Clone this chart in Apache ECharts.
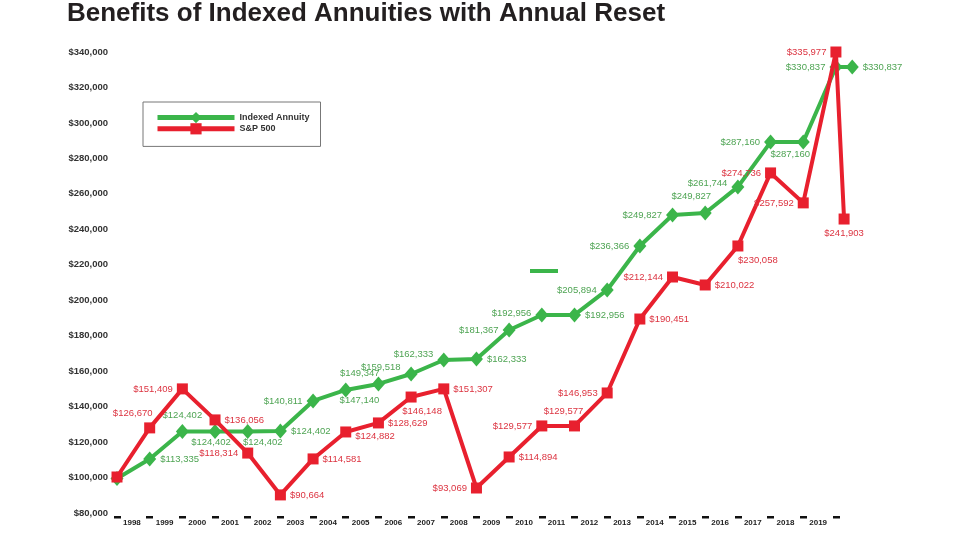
<!DOCTYPE html>
<html>
<head>
<meta charset="utf-8">
<script src="https://cdn.jsdelivr.net/npm/echarts@6/dist/echarts.min.js"></script>
<style>
html,body{margin:0;padding:0;background:#ffffff;}
#chart{width:960px;height:540px;}
</style>
</head>
<body>
<div id="chart"></div>
<script>
// ---- data ----
const years = ['1998','1999','2000','2001','2002','2003','2004','2005','2006','2007','2008','2009','2010','2011','2012','2013','2014','2015','2016','2017','2018','2019'];
const yTicks = [80000,100000,120000,140000,160000,180000,200000,220000,240000,260000,280000,300000,320000,340000];

// period index (one per year mark) for each plotted point
const annuityPeriod = [0,1,2,3,4,5,6,7,8,9,10,11,12,13,14,15,16,17,18,19,20,21,22,22.5];
const annuityValues = [99500,110500,126000,126000,126000,126200,143200,149400,152800,158400,166300,166800,183200,191700,191700,205800,230600,248100,249200,263900,289200,289200,331500,331500];
const annuityLabels = ['','$113,335','$124,402','$124,402','$124,402','$124,402','$140,811','$149,347','$147,140','$159,518','$162,333','$162,333','$181,367','$192,956','$192,956','$205,894','$236,366','$249,827','$249,827','$261,744','$287,160','$287,160','$330,837','$330,837'];

const sp500Period = [0,1,2,3,4,5,6,7,8,9,10,11,12,13,14,15,16,17,18,19,20,21,22,22.25];
const sp500Values = [100300,128000,150000,132500,113800,90200,110500,125700,130800,145400,150000,94100,111600,129100,129100,147700,189400,213100,208600,230600,271800,254900,340000,245800];
const sp500Labels = ['','$126,670','$151,409','$136,056','$118,314','$90,664','$114,581','$124,882','$128,629','$146,148','$151,307','$93,069','$114,894','$129,577','$129,577','$146,953','$190,451','$212,144','$210,022','$230,058','$274,736','$257,592','$335,977','$241,903'];

// ---- label placement (style only) ----
const annuityPlace = [
  ['right',0,0],['right',0,0],['top',0,0],['bottom',-4,-6],['bottom',15,-6],['right',0,0],
  ['left',0,0],['top',14,0],['bottom',-19,0],['left',0,-7],['left',0,-6],['right',0,0],
  ['left',0,0],['left',0,-2],['right',0,0],['left',0,0],['left',0,0],['left',0,0],
  ['top',-14,0],['left',0,-4],['left',0,0],['bottom',-13,-4],['left',0,0],['right',0,0]
];
const sp500Place = [
  ['right',0,0],['top',-17,0],['left',0,0],['right',0,0],['left',0,0],['right',0,0],
  ['right',0,0],['right',0,4],['right',0,0],['bottom',11,0],['right',0,0],['left',0,0],
  ['right',0,0],['left',0,0],['top',-11,0],['left',0,0],['right',0,0],['left',0,0],
  ['right',0,0],['bottom',20,0],['left',0,0],['left',0,0],['left',0,0],['bottom',0,0]
];

const FONT = "'Liberation Sans', Arial, sans-serif";
const GREEN = '#3bb54a', GREEN_TXT = '#4ea453';
const RED = '#e8202e', RED_TXT = '#dc3340';
const tickValues = years.map((y, i) => i).concat([years.length]);
const labelValues = years.map((y, i) => i);

function buildData(period, values, labels, place, color) {
  return values.map((v, i) => ({
    value: [period[i], v],
    label: {
      show: labels[i] !== '',
      formatter: labels[i],
      position: place[i][0],
      offset: [place[i][1], place[i][2]],
      color: color,
      fontFamily: FONT,
      fontSize: 9.5,
      distance: 4
    }
  }));
}

const chart = echarts.init(document.getElementById('chart'), null, {renderer: 'canvas'});
chart.setOption({
  animation: false,
  backgroundColor: '#ffffff',
  title: {
    text: 'Benefits of Indexed Annuities with Annual Reset',
    left: 67, top: 1, padding: 0,
    textStyle: {fontFamily: FONT, fontSize: 26, fontWeight: 'bold', color: '#231f20'}
  },
  legend: {
    orient: 'vertical',
    left: 143, top: 102,
    padding: [10, 11, 12, 12],
    itemGap: 0,
    itemWidth: 77, itemHeight: 14,
    borderColor: '#777', borderWidth: 1,
    lineStyle: {width: 5},
    textStyle: {fontFamily: FONT, fontSize: 9, fontWeight: 'bold', color: '#333'},
    data: ['Indexed Annuity', 'S&P 500']
  },
  grid: {left: 117, right: 91.4, top: 52, bottom: 27, containLabel: false},
  xAxis: {
    type: 'value', min: 0, max: 23, interval: 1,
    offset: 3,
    splitLine: {show: false},
    axisLine: {show: false},
    axisTick: {show: true, length: 2.5, customValues: tickValues.slice(0, 23), lineStyle: {color: '#111', width: 7}},
    axisLabel: {
      align: 'left', margin: 3,
      padding: [0, 0, 0, 6],
      customValues: labelValues,
      fontFamily: FONT, fontSize: 8, fontWeight: 'bold', color: '#222',
      formatter: v => (years[v] !== undefined ? years[v] : '')
    }
  },
  yAxis: {
    type: 'value', min: yTicks[0], max: yTicks[yTicks.length - 1], interval: 20000,
    splitLine: {show: false}, axisLine: {show: false}, axisTick: {show: false},
    axisLabel: {
      margin: 9,
      fontFamily: FONT, fontSize: 9.5, fontWeight: 'bold', color: '#333',
      formatter: v => '$' + v.toLocaleString('en-US')
    }
  },
  series: [
    {
      name: 'Indexed Annuity', type: 'line',
      symbol: 'diamond', symbolSize: [13, 15],
      lineStyle: {color: GREEN, width: 4},
      itemStyle: {color: GREEN},
      data: buildData(annuityPeriod, annuityValues, annuityLabels, annuityPlace, GREEN_TXT),
      z: 2
    },
    {
      name: 'S&P 500', type: 'line',
      symbol: 'rect', symbolSize: 11,
      lineStyle: {color: RED, width: 4},
      itemStyle: {color: RED},
      data: buildData(sp500Period, sp500Values, sp500Labels, sp500Place, RED_TXT),
      z: 3
    }
  ],
  graphic: [
    {type: 'rect', left: 530, top: 269, shape: {width: 28, height: 4}, style: {fill: GREEN}}
  ]
});
</script>
</body>
</html>
